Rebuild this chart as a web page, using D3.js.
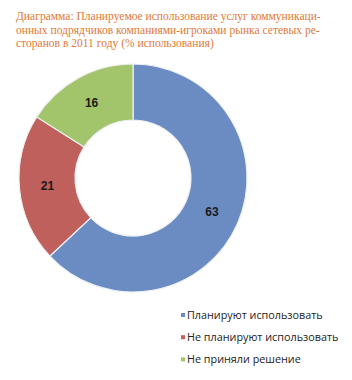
<!DOCTYPE html>
<html><head><meta charset="utf-8">
<script src="https://cdn.jsdelivr.net/npm/d3@7"></script>
<style>body{margin:0;background:#fff}</style>
</head><body>
<svg id="c" width="352" height="380"></svg>
<script>
const categories = ["Планируют использовать", "Не планируют использовать", "Не приняли решение"];
const values = [63, 21, 16];
const colors = ["#6A8CC3", "#C0605D", "#A2C46A"];
const titleLines = [
  "Диаграмма: Планируемое использование услуг коммуникаци-",
  "онных подрядчиков компаниями-игроками рынка сетевых ре-",
  "сторанов в 2011 году (% использования)"
];
const svg = d3.select("#c");
const tt = svg.append("g").selectAll("text").data(titleLines).join("text")
  .attr("x", 16).attr("y", (d,i)=>20+i*13.5)
  .attr("font-family","Liberation Serif").attr("font-size",12)
  .attr("fill","#E07A38")
  .text(d=>d);
// fit first line to the reference width
const w0 = tt.node().getComputedTextLength();
const fs = Math.min(12, 12 * 305 / w0);
tt.attr("font-size", fs);

const cx=133, cy=178, R=114, r=58;
const pie = d3.pie().sort(null).value(d=>d);
const arc = d3.arc().innerRadius(r).outerRadius(R);
const g = svg.append("g").attr("transform",`translate(${cx},${cy})`);
const arcs = pie(values);
g.selectAll("path").data(arcs).join("path")
  .attr("d",arc).attr("fill",(d,i)=>colors[i])
  .attr("stroke","#eef0f4").attr("stroke-width",1.2);
const lab = d3.arc().innerRadius((r+R)/2).outerRadius((r+R)/2);
g.selectAll("text").data(arcs).join("text")
  .attr("transform",d=>`translate(${lab.centroid(d)})`)
  .attr("text-anchor","middle").attr("dy","0.35em")
  .attr("font-family","Liberation Sans").attr("font-weight","bold").attr("font-size",12)
  .attr("fill","#1a1a1a").text(d=>d.data);

const lg = svg.append("g").attr("transform","translate(181,319)");
const item = lg.selectAll("g").data(categories).join("g")
  .attr("transform",(d,i)=>`translate(0,${i*22.2})`);
item.append("rect").attr("x",0).attr("y",-6).attr("width",4).attr("height",4)
  .attr("fill",(d,i)=>colors[i]);
item.append("text").attr("x",6).attr("y",0)
  .attr("font-family","Open Sans").attr("font-size",10.8).attr("fill","#222")
  .text(d=>d);
</script>
</body></html>
